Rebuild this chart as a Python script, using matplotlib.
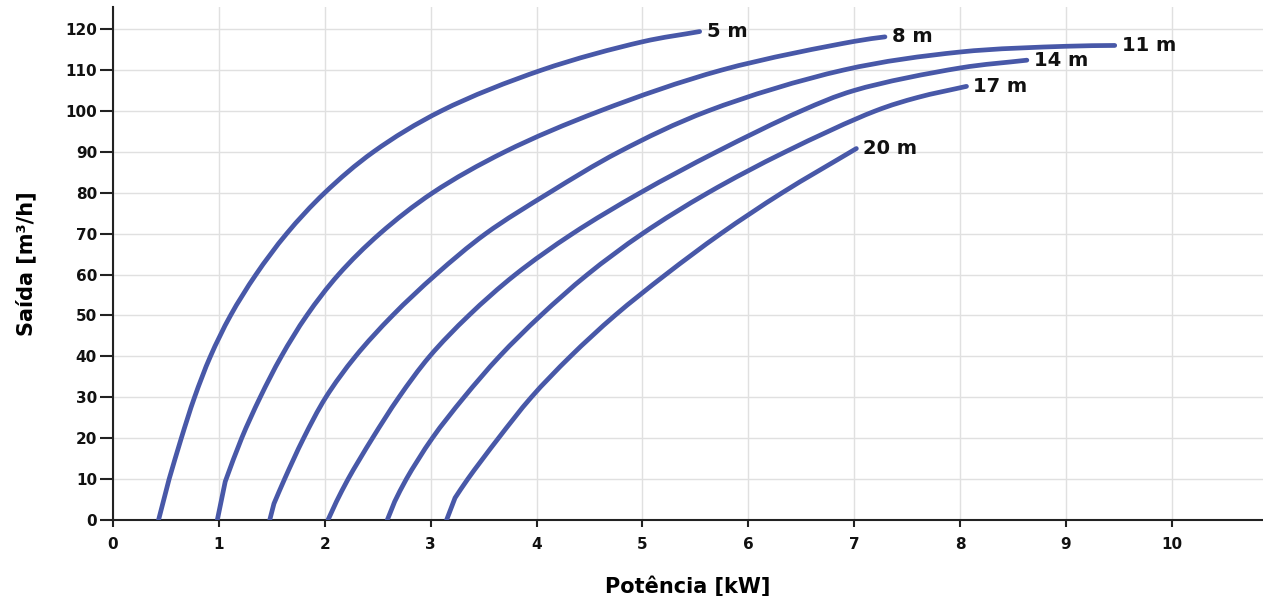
import matplotlib
matplotlib.use("Agg")
import matplotlib.pyplot as plt
from matplotlib.path import Path
from matplotlib.patches import PathPatch

plt.rcParams['font.family'] = ['DejaVu Sans']

labels = ["5 m", "8 m", "11 m", "14 m", "17 m", "20 m"]

x_5 = [0.43, 0.53, 0.645, 0.77, 0.92, 1.11, 1.35, 1.64, 2.0, 2.46, 3.1, 4.05, 5.0, 5.54]
y_5 = [0, 10, 20, 30, 40, 50, 60, 70, 80, 90, 100, 110, 116.9, 119.4]

x_8 = [0.985, 1.06, 1.215, 1.39, 1.59, 1.83, 2.13, 2.52, 3.02, 3.7, 4.6, 5.75, 7.0, 7.29]
y_8 = [0, 9.4, 20, 30, 40, 50, 60, 70, 80, 90, 100, 110, 117, 118.1]

x_11 = [1.48, 1.52, 1.62, 1.80, 2.01, 2.29, 2.64, 3.05, 3.52, 4.12, 4.78, 5.62, 6.9, 8.0, 9.0, 9.46]
y_11 = [0, 4, 10, 20, 30, 40, 50, 60, 70, 80, 90, 100, 110, 114.4, 115.8, 116]

x_14 = [2.03, 2.11, 2.22, 2.45, 2.70, 2.99, 3.36, 3.80, 4.34, 4.98, 5.7, 6.5, 7.0, 8.0, 8.63]
y_14 = [0, 4.5, 10, 20, 30, 40, 50, 60, 70, 80, 90, 100, 105, 110.5, 112.4]

x_17 = [2.59, 2.66, 2.77, 3.015, 3.315, 3.65, 4.04, 4.48, 5.0, 5.62, 6.35, 7.2, 7.6, 8.06]
y_17 = [0, 4.5, 10, 20, 30, 40, 50, 60, 70, 80, 90, 100, 103.3, 106]

x_20 = [3.15, 3.23, 3.35, 3.64, 3.95, 4.32, 4.74, 5.22, 5.74, 6.32, 7.02]
y_20 = [0, 5.4, 10, 20, 30, 40, 50, 60, 70, 80, 90.8]

series = [(x_5, y_5), (x_8, y_8), (x_11, y_11), (x_14, y_14), (x_17, y_17), (x_20, y_20)]

x_ticks = list(range(0, 11))
y_ticks = list(range(0, 121, 10))

color = "#4858a8"

# approximate screen scale (px per data unit) used only for the curve shape
SX, SY = 105.9, 4.09


def smooth_path(xs, ys, alpha=0.5):
    """Straight first segment, then a centripetal Catmull-Rom curve (cubic Beziers) through the read points."""
    pts = [(x * SX, y * SY) for x, y in zip(xs, ys)]
    sub = pts[1:]
    n = len(sub)
    verts = [pts[0], pts[1]]
    codes = [Path.MOVETO, Path.LINETO]

    def dist(a, b):
        return ((a[0] - b[0]) ** 2 + (a[1] - b[1]) ** 2) ** 0.5

    for i in range(n - 1):
        p1 = sub[i]
        p2 = sub[i + 1]
        p0 = sub[i - 1] if i > 0 else (2 * p1[0] - p2[0], 2 * p1[1] - p2[1])
        p3 = sub[i + 2] if i + 2 < n else (2 * p2[0] - p1[0], 2 * p2[1] - p1[1])
        d1 = dist(p0, p1) ** alpha
        d2 = dist(p1, p2) ** alpha
        d3 = dist(p2, p3) ** alpha
        b1 = tuple((d1 * d1 * p2[k] - d2 * d2 * p0[k] + (2 * d1 * d1 + 3 * d1 * d2 + d2 * d2) * p1[k])
                   / (3 * d1 * (d1 + d2)) for k in range(2))
        b2 = tuple((d3 * d3 * p1[k] - d2 * d2 * p3[k] + (2 * d3 * d3 + 3 * d3 * d2 + d2 * d2) * p2[k])
                   / (3 * d3 * (d3 + d2)) for k in range(2))
        verts += [b1, b2, p2]
        codes += [Path.CURVE4] * 3
    verts = [(v[0] / SX, v[1] / SY) for v in verts]
    return Path(verts, codes)


fig = plt.figure(figsize=(12.63, 5.96), dpi=100)
ax = fig.add_axes([113 / 1263, 1 - 520 / 596, 1 - 113 / 1263, (520 - 7) / 596])

for (xs, ys), lab in zip(series, labels):
    patch = PathPatch(smooth_path(xs, ys), facecolor='none', edgecolor=color, lw=3.4,
                      capstyle='round', joinstyle='round', zorder=3)
    ax.add_patch(patch)
    ax.annotate(lab, (xs[-1], ys[-1]), xytext=(5, 0), textcoords='offset points',
                va='center', ha='left', fontsize=14, fontweight='bold', color='#111111')

ax.set_xlim(0, 10.86)
ax.set_ylim(0, 125.4)
ax.set_xticks(x_ticks)
ax.set_yticks(y_ticks)
ax.grid(True, color='#e0e0e0', lw=1.0, zorder=0)
ax.set_axisbelow(True)
for s in ['top', 'right']:
    ax.spines[s].set_visible(False)
for s in ['left', 'bottom']:
    ax.spines[s].set_linewidth(1.5)
    ax.spines[s].set_color('#222222')
ax.tick_params(axis='x', direction='out', length=5, width=1.5, color='#222222',
               labelsize=11, labelcolor='#111111', pad=7)
ax.tick_params(axis='y', direction='out', length=9.5, width=1.5, color='#222222',
               labelsize=11, labelcolor='#111111', pad=2)
for t in ax.get_xticklabels() + ax.get_yticklabels():
    t.set_fontweight('bold')

ax.set_xlabel("Potência [kW]", fontsize=15, fontweight='bold', va='baseline')
ax.xaxis.set_label_coords(0.5, (520 - 593) / 513)
ax.set_ylabel("Saída [m³/h]", fontsize=15, fontweight='bold', va='center')
ax.yaxis.set_label_coords((26 - 113) / 1150, 0.5)

fig.savefig("out.png", dpi=100)
